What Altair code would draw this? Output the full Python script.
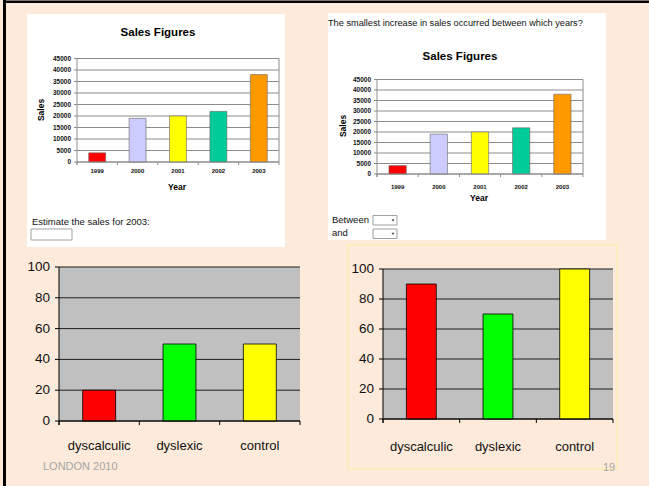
import altair as alt
import pandas as pd

# ---------------- data ----------------
years = ["1999", "2000", "2001", "2002", "2003"]
sales = [4000, 19000, 20000, 22000, 38000]
sales_ticks = [0, 5000, 10000, 15000, 20000, 25000, 30000, 35000, 40000, 45000]

groups = ["dyscalculic", "dyslexic", "control"]
scores_left = [20, 50, 50]
scores_right = [90, 70, 100]
score_ticks = [0, 20, 40, 60, 80, 100]

# ---------------- styles ----------------
BG = "#FDEADA"
FONT = "Liberation Sans"
NARROW = "Liberation Sans Narrow, Liberation Sans, Arial, sans-serif"
year_colors = ["#FF0000", "#CCCCFF", "#FFFF00", "#00CC99", "#FF9900"]
group_colors = ["#FF0000", "#00FF00", "#FFFF00"]

one = pd.DataFrame({"k": [0]})


def box(x, x2, y, y2, **kw):
    return alt.Chart(one).mark_rect(**kw).encode(
        x=alt.value(x), x2=alt.value(x2), y=alt.value(y), y2=alt.value(y2))


def line(x, x2, y, y2, **kw):
    return alt.Chart(one).mark_rule(**kw).encode(
        x=alt.value(x), x2=alt.value(x2), y=alt.value(y), y2=alt.value(y2))


def label(text, x, y, **kw):
    kw.setdefault("font", FONT)
    return alt.Chart(one).mark_text(text=text, **kw).encode(
        x=alt.value(x), y=alt.value(y))


def panel(cats, vals, ticks, colors, x0, x1, ybot, ytop, vmax, band,
          st):
    df = pd.DataFrame({"cat": cats, "val": vals})
    tdf = pd.DataFrame({"t": ticks, "lab": [str(t) for t in ticks]})
    xs = alt.Scale(domain=cats, range=[x0, x1], paddingInner=0, paddingOuter=0)
    ys = alt.Scale(domain=[0, vmax], range=[ybot, ytop], nice=False, zero=True)
    layers = []
    if st.get("plot_bg"):
        layers.append(box(x0, x1, ytop, ybot, fill=st["plot_bg"]))
    layers.append(
        alt.Chart(tdf).mark_rule(color=st["grid"], strokeWidth=1).encode(
            y=alt.Y("t:Q", scale=ys, axis=None),
            x=alt.value(x0), x2=alt.value(x1)))
    if st.get("right_border"):
        layers.append(line(x1, x1, ytop, ybot, color=st["grid"]))
    # y ticks
    layers.append(
        alt.Chart(tdf).mark_rule(color=st["axis"], strokeWidth=1).encode(
            y=alt.Y("t:Q", scale=ys, axis=None),
            x=alt.value(x0 - st["tick"]), x2=alt.value(x0)))
    # bars
    layers.append(
        alt.Chart(df).mark_bar(
            width=alt.RelativeBandSize(band), stroke=st["bar_stroke"],
            strokeWidth=st["bar_sw"]).encode(
            x=alt.X("cat:N", scale=xs, axis=None),
            y=alt.Y("val:Q", scale=ys, axis=None),
            color=alt.Color("cat:N", scale=alt.Scale(domain=cats, range=colors),
                            legend=None)))
    # axis lines
    layers.append(line(x0, x0, ytop, ybot + st["tick"], color=st["axis"], strokeWidth=1))
    layers.append(line(x0, x1, ybot, ybot, color=st["axis"], strokeWidth=1))
    # x boundary ticks
    layers.append(
        alt.Chart(df).mark_rule(color=st["axis"], strokeWidth=1).encode(
            x=alt.X("cat:N", scale=xs, bandPosition=0, axis=None),
            y=alt.value(ybot), y2=alt.value(ybot + st["tick"])))
    layers.append(line(x1, x1, ybot, ybot + st["tick"], color=st["axis"], strokeWidth=1))
    # y labels
    layers.append(
        alt.Chart(tdf).mark_text(
            align="right", baseline="middle", font=st["font"],
            fontSize=st["ysize"], fontWeight=st["weight"], color="#111").encode(
            y=alt.Y("t:Q", scale=ys, axis=None),
            x=alt.value(st["ylab_x"]), text="lab:N"))
    # x labels
    layers.append(
        alt.Chart(df).mark_text(
            align="center", baseline="middle", font=st["font"],
            fontSize=st["xsize"], fontWeight=st["weight"], color="#111").encode(
            x=alt.X("cat:N", scale=xs, axis=None),
            y=alt.value(st["xlab_y"]), text="cat:N"))
    return alt.layer(*layers)


top_style = dict(grid="#8C8C8C", axis="#8C8C8C", tick=3, bar_stroke="#666666",
                 bar_sw=0.6, font=FONT, ysize=6.5, xsize=6, weight="bold",
                 right_border=True)
bot_style = dict(grid="#1E1E1E", axis="#000000", tick=4, bar_stroke="#000000",
                 bar_sw=0.8, font=NARROW, ysize=13.5, xsize=13, weight="normal",
                 plot_bg="#C0C0C0")

tl = panel(years, sales, sales_ticks, year_colors, 77, 279, 162, 58.5, 45000,
           0.42, dict(top_style, ylab_x=71, xlab_y=171))
tr = panel(years, sales, sales_ticks, year_colors, 377, 583, 174, 79.5, 45000,
           0.42, dict(top_style, ylab_x=371, xlab_y=187))
bl = panel(groups, scores_left, score_ticks, group_colors, 59, 300, 421, 267, 100,
           0.41, dict(bot_style, ylab_x=50, xlab_y=446))
br = panel(groups, scores_right, score_ticks, group_colors, 383, 613, 419, 269, 100,
           0.39, dict(bot_style, ylab_x=374, xlab_y=447))

deco = [
    box(3, 6, 0, 486, fill="#000000"),
    box(3, 649, 0.5, 3, fill="#000000"),
    box(27, 285, 14, 247, fill="#FFFFFF"),
    box(328, 606, 13, 240, fill="#FFFFFF"),
    box(348, 617, 245, 469, fill=None, fillOpacity=0, stroke="#F8EE9C", strokeWidth=1),
    # top-left texts
    label("Sales Figures", 158, 33, fontSize=11.5, fontWeight="bold", align="center", baseline="middle"),
    label("Sales", 41, 110, fontSize=8.5, fontWeight="bold", angle=270, align="center", baseline="middle"),
    label("Year", 177, 187, fontSize=8.5, fontWeight="bold", align="center", baseline="middle"),
    label("Estimate the sales for 2003:", 32, 222, fontSize=9.5, align="left", baseline="middle", color="#111"),
    box(31, 72, 229, 240, fill="#FFFFFF", stroke="#A0A0A0", strokeWidth=1),
    # top-right texts
    label("The smallest increase in sales occurred between which years?", 328, 23,
          fontSize=9.2, align="left", baseline="middle", color="#111"),
    label("Sales Figures", 460, 57, fontSize=11.5, fontWeight="bold", align="center", baseline="middle"),
    label("Sales", 343, 126, fontSize=8.5, fontWeight="bold", angle=270, align="center", baseline="middle"),
    label("Year", 479, 198, fontSize=8.5, fontWeight="bold", align="center", baseline="middle"),
    label("Between", 332, 220, fontSize=9.5, align="left", baseline="middle", color="#111"),
    label("and", 332, 233, fontSize=9.5, align="left", baseline="middle", color="#111"),
    box(373, 397, 215.5, 225, fill="#FFFFFF", stroke="#A0A0A0", strokeWidth=1),
    box(373, 397, 229, 238.5, fill="#FFFFFF", stroke="#A0A0A0", strokeWidth=1),
    alt.Chart(one).mark_point(shape="triangle-down", filled=True, size=8, color="#000").encode(
        x=alt.value(393), y=alt.value(220.5)),
    alt.Chart(one).mark_point(shape="triangle-down", filled=True, size=8, color="#000").encode(
        x=alt.value(393), y=alt.value(234)),
    # footer
    label("LONDON 2010", 43, 467, fontSize=11, align="left", baseline="middle", color="#A6A6A6"),
    label("19", 609, 468, fontSize=11, align="center", baseline="middle", color="#A6A6A6"),
]

chart = alt.layer(*deco, tl, tr, bl, br).resolve_scale(
    x="independent", y="independent", color="independent"
).properties(
    width=649, height=486, padding=0,
    autosize=alt.AutoSizeParams(type="none"), background=BG
).configure_view(stroke=None)

chart.save("out.html", embed_options={"renderer": "svg", "actions": False})
